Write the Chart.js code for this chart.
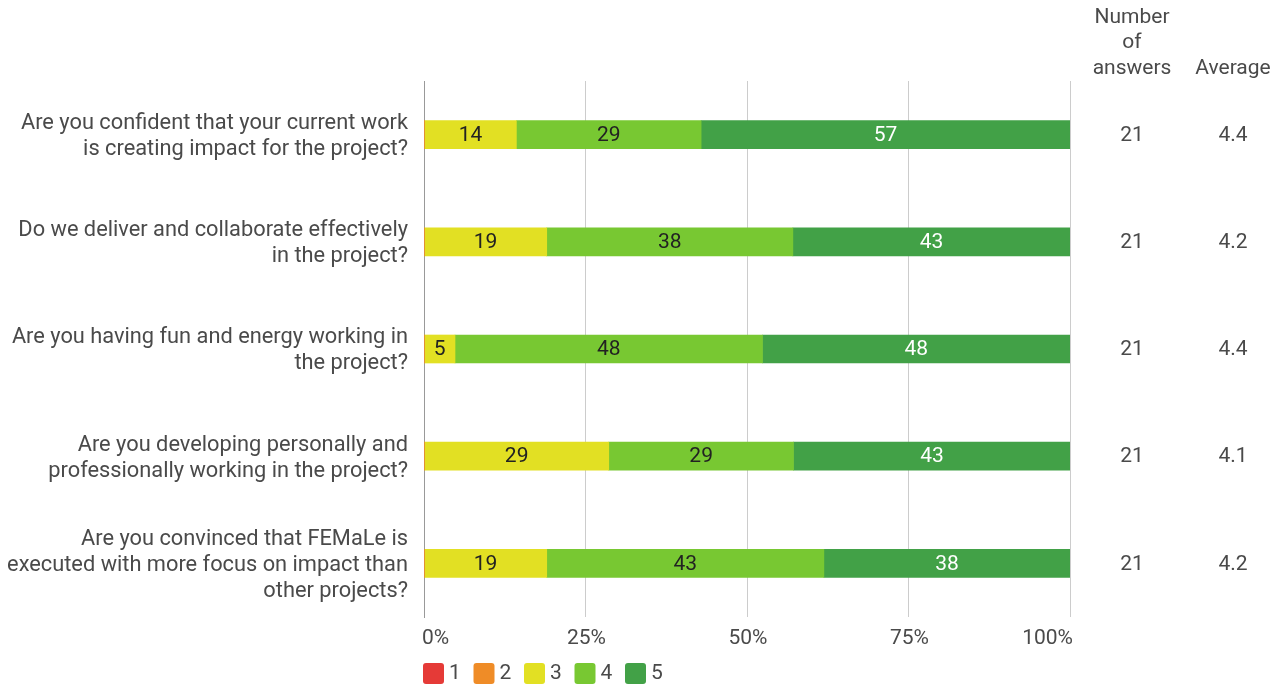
<!DOCTYPE html>
<html>
<head>
<meta charset="utf-8">
<script src="https://cdn.jsdelivr.net/npm/chart.js@4"></script>
<style>
  html, body { margin: 0; padding: 0; background: #fff; }
  #wrap { width: 1288px; height: 687px; }
</style>
</head>
<body>
<div id="wrap"><canvas id="chart" width="1288" height="687"></canvas></div>
<script>
const QUESTIONS = [
  ["Are you confident that your current work", "is creating impact for the project?"],
  ["Do we deliver and collaborate effectively", "in the project?"],
  ["Are you having fun and energy working in", "the project?"],
  ["Are you developing personally and", "professionally working in the project?"],
  ["Are you convinced that FEMaLe is", "executed with more focus on impact than", "other projects?"],
];

const SCORES = ["1", "2", "3", "4", "5"];
const COLORS = ["#e53a37", "#ef8c27", "#e2e023", "#78c832", "#42a147"];

// share of answers per score, in percent
const SCORE_1 = [0, 0, 0, 0, 0];
const SCORE_2 = [0, 0, 0, 0, 0];
const SCORE_3 = [14.3, 19.0, 4.8, 28.6, 19.0];
const SCORE_4 = [28.6, 38.1, 47.6, 28.6, 42.9];
const SCORE_5 = [57.1, 42.9, 47.6, 42.9, 38.1];

const ANSWERS = ["21", "21", "21", "21", "21"];
const AVERAGES = ["4.4", "4.2", "4.4", "4.1", "4.2"];

const X_TICKS = [0, 25, 50, 75, 100];

const FONT = "Roboto";
const TEXT = "#4a4a4a";
const SIZE = 21;

// numbers inside the bars
const barLabels = {
  id: "barLabels",
  afterDatasetsDraw(chart) {
    const ctx = chart.ctx;
    ctx.save();
    ctx.font = SIZE + "px " + FONT;
    ctx.textAlign = "center";
    ctx.textBaseline = "middle";
    chart.data.datasets.forEach((ds, di) => {
      const meta = chart.getDatasetMeta(di);
      meta.data.forEach((bar, i) => {
        const v = ds.data[i];
        if (!v) return;
        ctx.fillStyle = di === 4 ? "#fff" : "#222";
        ctx.fillText(String(Math.round(v)), (bar.x + bar.base) / 2, bar.y + 1);
      });
    });
    ctx.restore();
  },
};

// x tick labels, right-hand columns and the legend
const extras = {
  id: "extras",
  afterDraw(chart) {
    const ctx = chart.ctx;
    const x = chart.scales.x;
    const y = chart.scales.y;
    ctx.save();
    ctx.font = SIZE + "px " + FONT;
    ctx.fillStyle = TEXT;
    ctx.textBaseline = "middle";

    // percentage ticks: first one left aligned, last one right aligned
    X_TICKS.forEach((v, i) => {
      ctx.textAlign = i === 0 ? "left" : i === X_TICKS.length - 1 ? "right" : "center";
      const px = x.getPixelForValue(v) + (i === 0 ? -2 : i === X_TICKS.length - 1 ? 3 : 1);
      ctx.fillText(v + "%", px, 639);
    });

    ctx.textAlign = "center";
    ctx.fillText("Number", 1132, 18);
    ctx.fillText("of", 1132, 43);
    ctx.fillText("answers", 1132, 69);
    ctx.fillText("Average", 1233, 69);
    QUESTIONS.forEach((q, i) => {
      const py = y.getPixelForValue(i) + 1;
      ctx.fillText(ANSWERS[i], 1132, py);
      ctx.fillText(AVERAGES[i], 1233, py);
    });

    // legend
    let lx = 423;
    ctx.textAlign = "left";
    SCORES.forEach((s, i) => {
      ctx.fillStyle = COLORS[i];
      ctx.beginPath();
      ctx.roundRect(lx, 663, 21, 21, 3);
      ctx.fill();
      ctx.fillStyle = TEXT;
      ctx.fillText(s, lx + 26, 674);
      lx += 50.5;
    });
    ctx.restore();
  },
};

const series = [SCORE_1, SCORE_2, SCORE_3, SCORE_4, SCORE_5];

new Chart(document.getElementById("chart"), {
  type: "bar",
  data: {
    labels: QUESTIONS,
    datasets: series.map((d, i) => ({
      label: SCORES[i],
      data: d,
      backgroundColor: COLORS[i],
      borderWidth: 0,
      barThickness: 28,
    })),
  },
  options: {
    indexAxis: "y",
    responsive: false,
    animation: false,
    layout: { padding: { top: 81, right: 218, left: 0, bottom: 0 } },
    plugins: {
      legend: { display: false },
      tooltip: { enabled: false },
    },
    scales: {
      x: {
        stacked: true,
        min: 0,
        max: 100,
        afterBuildTicks: (scale) => {
          scale.ticks = X_TICKS.map((v) => ({ value: v }));
        },
        afterFit: (scale) => {
          scale.height = 70;
        },
        ticks: { display: false },
        grid: { color: "#ccc", drawTicks: false },
        border: { display: false },
      },
      y: {
        stacked: true,
        afterFit: (scale) => {
          scale.width = 424;
        },
        ticks: {
          color: TEXT,
          font: { family: FONT, size: 21.8, lineHeight: 1.19 },
          padding: 16,
          labelOffset: 2,
        },
        grid: { display: false, drawTicks: false },
        border: { color: "#999", width: 1 },
      },
    },
  },
  plugins: [barLabels, extras],
});
</script>
</body>
</html>
